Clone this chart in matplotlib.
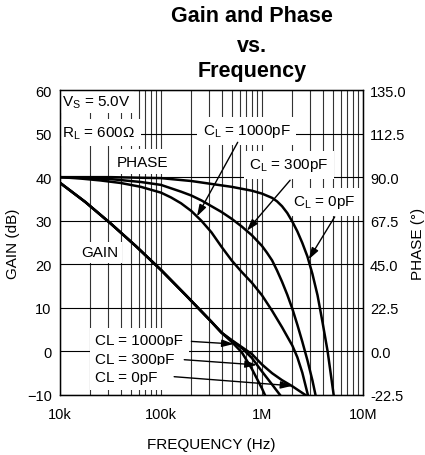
import numpy as np
import matplotlib.pyplot as plt
from matplotlib.ticker import LogLocator, NullFormatter

plt.rcParams['font.family'] = ['Liberation Sans', 'DejaVu Sans']
plt.rcParams['mathtext.default'] = 'regular'

# open-loop gain (Hz, dB)
gain_f_1000 = [10e3, 17.8e3, 31.6e3, 56.2e3, 100e3, 178e3, 316e3, 398e3, 501e3, 631e3, 794e3, 1e6, 1.07e6]
gain_1000 = [38.7, 34.3, 29.4, 24.2, 18.7, 12.8, 6.8, 4.3, 2.2, -0.2, -4.0, -8.5, -10]
gain_f_300 = [10e3, 17.8e3, 31.6e3, 56.2e3, 100e3, 178e3, 316e3, 398e3, 501e3, 631e3, 794e3, 1e6, 1.26e6, 1.51e6]
gain_300 = [38.7, 34.3, 29.4, 24.2, 18.7, 12.8, 6.8, 4.3, 2.5, 0.8, -1.5, -4.6, -7.6, -10]
gain_f_0 = [10e3, 17.8e3, 31.6e3, 56.2e3, 100e3, 178e3, 316e3, 398e3, 501e3, 631e3, 794e3, 1e6, 1.26e6,
            1.58e6, 2.0e6, 2.69e6]
gain_0 = [38.7, 34.3, 29.4, 24.2, 18.7, 12.8, 6.8, 4.3, 2.6, 1.0, -0.6, -3.0, -5.0, -6.6, -8.0, -10]

# phase (Hz, degrees)
phase_f_1000 = [10e3, 15.8e3, 25.1e3, 39.8e3, 63.1e3, 100e3, 126e3, 158e3, 200e3, 251e3, 316e3, 398e3,
                501e3, 631e3, 794e3, 1e6, 1.26e6, 1.58e6, 2.0e6, 2.24e6, 2.51e6, 2.85e6]
phase_1000 = [90, 89.3, 88.3, 87, 85, 82, 79.5, 76.5, 72.5, 67.5, 61.5, 54,
              47, 41, 35.5, 29, 21, 12.5, 3, -3, -11, -22.5]
phase_f_300 = [10e3, 31.6e3, 63.1e3, 100e3, 158e3, 200e3, 251e3, 316e3, 398e3, 501e3, 631e3, 794e3,
               1e6, 1.12e6, 1.26e6, 1.41e6, 1.58e6, 1.78e6, 2.0e6, 2.24e6, 2.51e6, 2.82e6, 3.16e6, 3.39e6]
phase_300 = [90, 89, 87.5, 86, 82.5, 80.5, 78, 75, 72, 68.5, 64.5, 60,
             54.5, 51, 47, 41.8, 36, 29.3, 22, 13.8, 5, -4.6, -15, -22.5]
phase_f_0 = [10e3, 31.6e3, 100e3, 200e3, 316e3, 501e3, 631e3, 794e3, 1e6, 1.26e6, 1.41e6, 1.58e6, 1.78e6,
             2.0e6, 2.24e6, 2.51e6, 2.82e6, 3.16e6, 3.55e6, 3.98e6, 4.47e6, 5.13e6]
phase_0 = [90, 90, 89.5, 88, 86.5, 85, 84, 83, 81.5, 79.3, 77.5, 75, 71.5,
           67, 62, 56, 49, 40, 29, 15, 0, -22.5]

freq_ticks = [1e4, 1e5, 1e6, 1e7]
freq_labels = ['10k', '100k', '1M', '10M']
gain_ticks = [-10, 0, 10, 20, 30, 40, 50, 60]
phase_ticks = [-22.5, 0.0, 22.5, 45.0, 67.5, 90.0, 112.5, 135.0]

fig = plt.figure(figsize=(4.25, 4.56), dpi=100)
ax = fig.add_axes([0.1412, 0.1316, 0.7128, 0.6688])
ax.set_xscale('log')
ax.set_xlim(1e4, 1e7)
ax.set_ylim(-10, 60)

ax.xaxis.set_minor_locator(LogLocator(base=10, subs=np.arange(2, 10)))
ax.xaxis.set_minor_formatter(NullFormatter())
ax.set_xticks(freq_ticks, freq_labels)
ax.set_yticks(gain_ticks)
ax.grid(which='both', axis='x', color='#333333', lw=0.8, zorder=0)
ax.grid(which='major', axis='y', color='black', lw=0.8, zorder=0)
ax.set_axisbelow(True)
ax.tick_params(which='both', length=0, labelsize=10.5, pad=6)
ax.tick_params(axis='x', pad=9)
for s in ax.spines.values():
    s.set_linewidth(1.0)

lw = 1.8
ax.plot(gain_f_1000, gain_1000, color='black', lw=lw, zorder=3)
ax.plot(gain_f_300, gain_300, color='black', lw=lw, zorder=3)
ax.plot(gain_f_0, gain_0, color='black', lw=lw, zorder=3)

ax2 = ax.twinx()
ax2.set_ylim(-22.5, 135)
ax2.set_yticks(phase_ticks, [f'{v:.1f}' for v in phase_ticks])
ax2.tick_params(length=0, labelsize=10.5, pad=5)
ax2.plot(phase_f_1000, phase_1000, color='black', lw=lw, zorder=3)
ax2.plot(phase_f_300, phase_300, color='black', lw=lw, zorder=3)
ax2.plot(phase_f_0, phase_0, color='black', lw=lw, zorder=3)

ax.set_xlabel('FREQUENCY (Hz)', fontsize=11, labelpad=11)
ax.set_ylabel('GAIN (dB)', fontsize=11, labelpad=5)
ax2.set_ylabel('PHASE (°)', fontsize=11, labelpad=3)

fs = 11
box = dict(facecolor='white', edgecolor='none', pad=2.5)
wide_box = dict(facecolor='white', edgecolor='none', pad=4)
ax.text(10.5e3, 57.4, 'V$_S$ = 5.0V', fontsize=fs, ha='left', va='center', bbox=box, zorder=2)
ax.text(10.5e3, 50.2, 'R$_L$ = 600Ω', fontsize=fs, ha='left', va='center', bbox=wide_box, zorder=2)
ax.text(66e3, 43.5, 'PHASE', fontsize=fs, ha='center', va='center', bbox=wide_box, zorder=2)
ax.text(25e3, 22.8, 'GAIN', fontsize=fs, ha='center', va='center', bbox=box, zorder=2)
ax.text(708e3, 50.6, 'C$_L$ = 1000pF', fontsize=fs, ha='center', va='center', bbox=wide_box, zorder=2)
ax.text(1.86e6, 42.8, 'C$_L$ = 300pF', fontsize=fs, ha='center', va='center', bbox=wide_box, zorder=2)
ax.text(4.17e6, 34.3, 'C$_L$ = 0pF', fontsize=fs, ha='center', va='center', bbox=wide_box, zorder=2)

ax.text(22.3e3, 2.6, 'CL = 1000pF', fontsize=fs, ha='left', va='center', bbox=wide_box, zorder=2)
ax.text(22.3e3, -1.7, 'CL = 300pF', fontsize=fs, ha='left', va='center', bbox=wide_box, zorder=2)
ax.text(22.3e3, -5.9, 'CL = 0pF', fontsize=fs, ha='left', va='center', bbox=wide_box, zorder=2)

arrow = dict(arrowstyle='-|>,head_length=0.7,head_width=0.22', color='black', lw=1.0,
             shrinkA=0, shrinkB=0)
# phase labels point at the phase curves
ax2.annotate('', xy=(227e3, 69.7), xytext=(575e3, 108), arrowprops=arrow, zorder=4)
ax2.annotate('', xy=(708e3, 62.3), xytext=(1.9e6, 88.4), arrowprops=arrow, zorder=4)
ax2.annotate('', xy=(2.9e6, 47.5), xytext=(5.25e6, 69.5), arrowprops=arrow, zorder=4)
# gain labels point at the gain curves
ax.annotate('', xy=(525e3, 1.7), xytext=(200e3, 2.3), arrowprops=arrow, zorder=4)
ax.annotate('', xy=(891e3, -3.1), xytext=(170e3, -1.9), arrowprops=arrow, zorder=4)
ax.annotate('', xy=(2.0e6, -7.9), xytext=(135e3, -5.8), arrowprops=arrow, zorder=4)

title_kw = dict(fontsize=15.5, fontweight='bold', ha='center', va='center')
fig.text(0.593, 1 - 17 / 456, 'Gain and Phase', **title_kw)
fig.text(0.593, 1 - 46 / 456, 'vs.', **title_kw)
fig.text(0.593, 1 - 72 / 456, 'Frequency', **title_kw)

fig.savefig('out.png', dpi=100)
